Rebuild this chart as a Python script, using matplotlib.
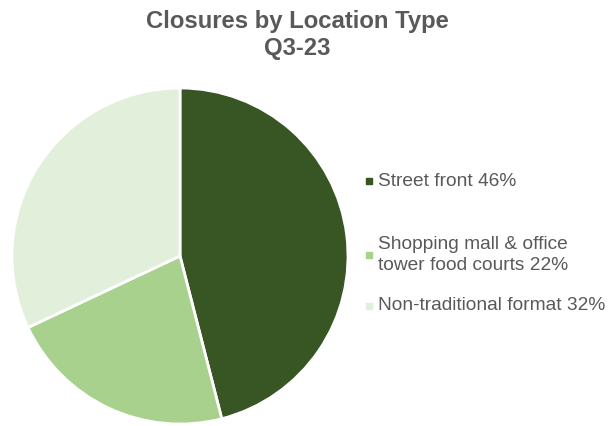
import matplotlib
matplotlib.use('Agg')
import matplotlib.pyplot as plt
from matplotlib.patches import Rectangle

categories = ['Street front', 'Shopping mall & office\ntower food courts', 'Non-traditional format']
shares = [46, 22, 32]
colors = ['#375623', '#A9D18E', '#E2EFDA']

plt.rcParams['font.family'] = ['Liberation Sans', 'DejaVu Sans']

fig = plt.figure(figsize=(6.16, 4.26), dpi=100)
# pie centre ~ (180, 256) px, radius ~168 px
ax = fig.add_axes([12 / 616, 2 / 426, 336 / 616, 336 / 426])
ax.pie(shares, colors=colors, startangle=90, counterclock=False,
       wedgeprops=dict(edgecolor='white', linewidth=2))
ax.set_xlim(-1, 1)
ax.set_ylim(-1, 1)
ax.set_aspect('equal')

fig.text(297 / 616, 1 - 35 / 426, 'Closures by Location Type\nQ3-23', ha='center', va='center',
         fontsize=17.2, fontweight='bold', color='#595959', linespacing=1.17)

# legend rows, y in pixels from top
rows_y = [181, 255, 306]
for lab, val, col, y in zip(categories, shares, colors, rows_y):
    yf = 1 - y / 426
    fig.patches.append(Rectangle((366 / 616, yf - 3 / 426), 6 / 616, 6 / 426,
                                 transform=fig.transFigure, color=col))
    fig.text(378 / 616, yf, f'{lab} {val}%', ha='left', va='center',
             fontsize=13.8, color='#595959', linespacing=1.24)

fig.savefig('out.png', dpi=100)
